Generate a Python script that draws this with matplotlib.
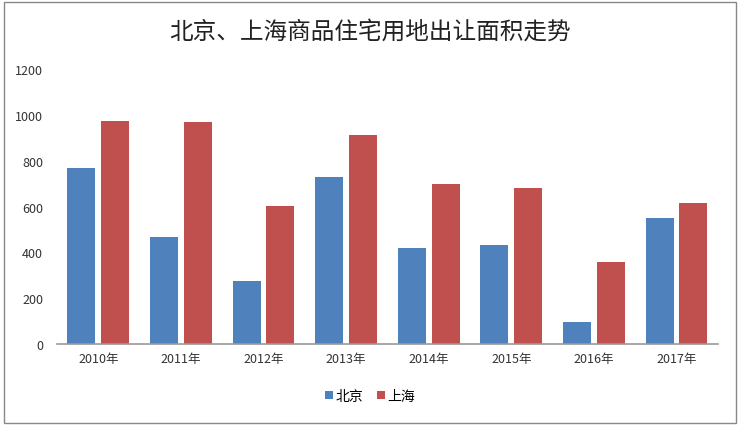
import matplotlib.pyplot as plt
import numpy as np
from matplotlib.patches import Rectangle

plt.rcParams['font.family'] = ['Noto Sans CJK SC', 'DejaVu Sans']

# ---------------- DATA ----------------

years = ["2010年", "2011年", "2012年", "2013年", "2014年", "2015年", "2016年", "2017年"]
beijing = [766, 465, 273, 729, 420, 430, 97, 548]
shanghai = [975, 967, 602, 913, 697, 680, 360, 614]

# ---------------- PLOT ----------------

fig = plt.figure(figsize=(7.4, 4.27), dpi=100)
ax = fig.add_axes([0.077, 0.192, 0.893, 0.644])

x = np.arange(len(years))
w = 0.34
ax.bar(x - 0.205, beijing, w, color="#4F81BD", label="北京")
ax.bar(x + 0.205, shanghai, w, color="#C0504D", label="上海")

ax.set_xlim(-0.5, len(years) - 0.5)
ax.set_ylim(0, 1200)
ax.set_yticks(range(0, 1201, 200))
ax.set_xticks(x)
ax.set_xticklabels(years)
ax.tick_params(axis="both", length=0, labelsize=9, colors="#333333")
ax.tick_params(axis="x", pad=6)
ax.tick_params(axis="y", pad=10)

for s in ["top", "right", "left"]:
    ax.spines[s].set_visible(False)
ax.spines["bottom"].set_color("#999999")
ax.spines["bottom"].set_linewidth(1.2)

fig.text(0.5, 0.925, "北京、上海商品住宅用地出让面积走势", ha="center", va="center",
         fontsize=17, color="#222222", fontweight="light")

fig.legend(loc="center", bbox_to_anchor=(0.5, 0.07), ncol=2, frameon=False,
           fontsize=10, handlelength=0.55, handleheight=0.55, handletextpad=0.2,
           columnspacing=1.0)

# outer border
fig.patches.append(Rectangle((0.006, 0.008), 0.988, 0.984, transform=fig.transFigure,
                             fill=False, edgecolor="#888888", linewidth=1))

fig.savefig("out.png", dpi=100)
